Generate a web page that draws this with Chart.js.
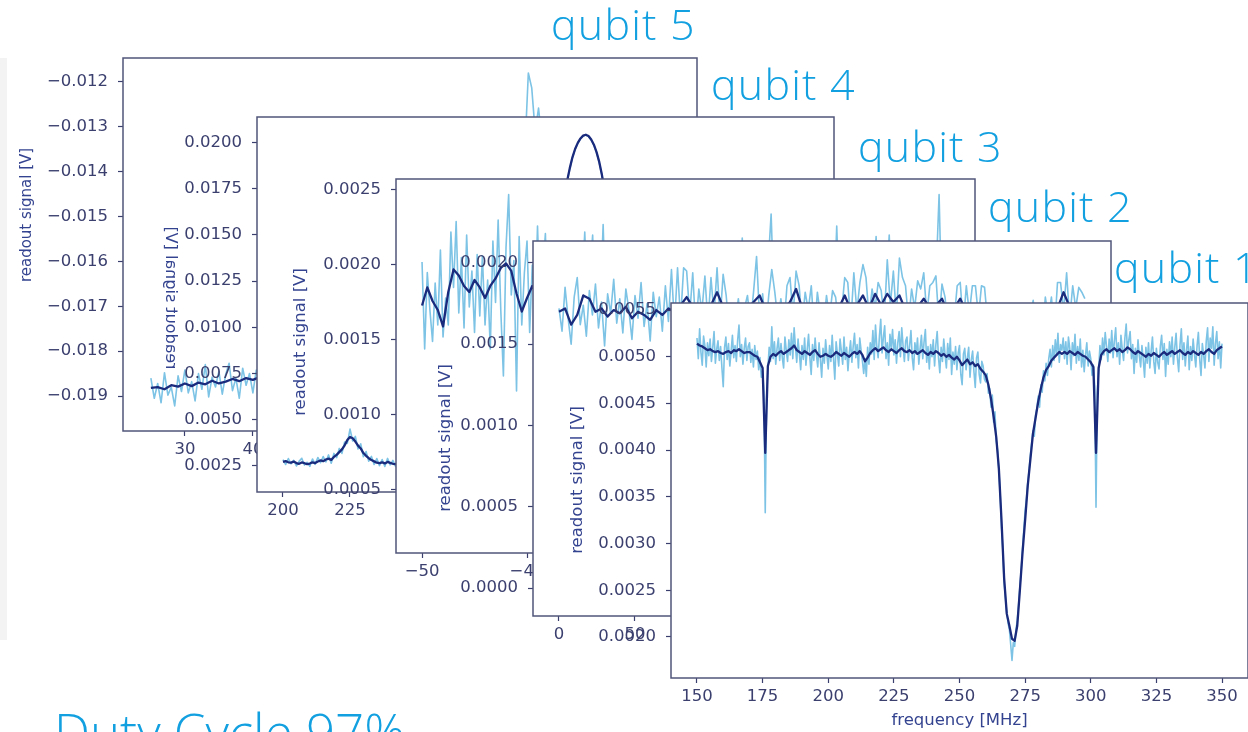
<!DOCTYPE html>
<html>
<head>
<meta charset="utf-8">
<script src="https://cdn.jsdelivr.net/npm/chart.js@4.4.1/dist/chart.umd.min.js"></script>
<style>
  html, body { margin: 0; padding: 0; background: #ffffff; }
  #stage { position: relative; width: 1248px; height: 732px; overflow: hidden; background: #ffffff; }
  #stage canvas { position: absolute; left: 0; top: 0; }
  .strip { position: absolute; left: 0; top: 58px; width: 7px; height: 582px; background: #f3f3f3; }
  #labels { position: absolute; left: 0; top: 0; }
  #labels text { font-family: "Open Sans", "Lato", sans-serif; font-weight: 300; fill: #12a0e0; }
</style>
</head>
<body>
<div id="stage">
  <div class="strip"></div>
  <canvas id="c5" width="1248" height="732"></canvas>
  <canvas id="c4" width="1248" height="732"></canvas>
  <canvas id="c3" width="1248" height="732"></canvas>
  <canvas id="c2" width="1248" height="732"></canvas>
  <canvas id="c1" width="1248" height="732"></canvas>
  <svg id="labels" width="1248" height="732" xmlns="http://www.w3.org/2000/svg">
    <text x="551" y="40" font-size="43" letter-spacing="1.2">qubit 5</text>
    <text x="711" y="100" font-size="43" letter-spacing="1.2">qubit 4</text>
    <text x="858" y="162" font-size="43" letter-spacing="1.2">qubit 3</text>
    <text x="988" y="222" font-size="43" letter-spacing="1.2">qubit 2</text>
    <text x="1114" y="283" font-size="43" letter-spacing="1.2">qubit 1</text>
    <text x="54" y="751" font-size="51">Duty Cycle 97%</text>
  </svg>
</div>
<script>
// ---------------- DATA ----------------
// qubit 1: frequency sweep 150..350 MHz
const q1RawStart = 150, q1RawStep = 0.5;
const q1Raw = [
  0.00520, 0.00498, 0.00530, 0.00505, 0.00491, 0.00522, 0.00512, 0.00489, 0.00515, 0.00501,
  0.00519, 0.00495, 0.00510, 0.00527, 0.00493, 0.00508, 0.00517, 0.00496, 0.00511, 0.00488,
  0.00468, 0.00510, 0.00521, 0.00497, 0.00514, 0.00490, 0.00506, 0.00523, 0.00499, 0.00512,
  0.00495, 0.00518, 0.00534, 0.00500, 0.00513, 0.00492, 0.00509, 0.00520, 0.00496, 0.00511,
  0.00515, 0.00494, 0.00508, 0.00489, 0.00512, 0.00497, 0.00506, 0.00486, 0.00499, 0.00478,
  0.00485, 0.00462, 0.00333, 0.00455, 0.00488, 0.00510, 0.00495, 0.00532, 0.00498, 0.00516,
  0.00492, 0.00509, 0.00520, 0.00496, 0.00514, 0.00499, 0.00488, 0.00521, 0.00507, 0.00495,
  0.00518, 0.00502, 0.00525, 0.00498, 0.00531, 0.00511, 0.00494, 0.00519, 0.00503, 0.00486,
  0.00512, 0.00497, 0.00520, 0.00491, 0.00508, 0.00524, 0.00499, 0.00481, 0.00513, 0.00496,
  0.00520, 0.00502, 0.00489, 0.00515, 0.00497, 0.00478, 0.00509, 0.00493, 0.00518, 0.00501,
  0.00487, 0.00512, 0.00495, 0.00523, 0.00498, 0.00476, 0.00516, 0.00503, 0.00490, 0.00519,
  0.00506, 0.00492, 0.00521, 0.00497, 0.00510, 0.00485, 0.00504, 0.00517, 0.00494, 0.00511,
  0.00525, 0.00499, 0.00513, 0.00488, 0.00520, 0.00507, 0.00496, 0.00482, 0.00498, 0.00479,
  0.00510, 0.00492, 0.00515, 0.00503, 0.00528, 0.00497, 0.00534, 0.00511, 0.00499, 0.00522,
  0.00540, 0.00504, 0.00521, 0.00533, 0.00498, 0.00515, 0.00491, 0.00524, 0.00510, 0.00529,
  0.00502, 0.00518, 0.00493, 0.00515, 0.00527, 0.00500, 0.00531, 0.00512, 0.00495, 0.00517,
  0.00521, 0.00496, 0.00512, 0.00528, 0.00499, 0.00486, 0.00515, 0.00503, 0.00520, 0.00492,
  0.00509, 0.00523, 0.00498, 0.00516, 0.00529, 0.00494, 0.00511, 0.00487, 0.00513, 0.00500,
  0.00518, 0.00490, 0.00513, 0.00527, 0.00499, 0.00483, 0.00510, 0.00495, 0.00519, 0.00502,
  0.00488, 0.00514, 0.00497, 0.00520, 0.00481, 0.00505, 0.00492, 0.00511, 0.00486, 0.00504,
  0.00512, 0.00481, 0.00470, 0.00503, 0.00509, 0.00486, 0.00499, 0.00510, 0.00478, 0.00497,
  0.00506, 0.00484, 0.00467, 0.00499, 0.00505, 0.00481, 0.00472, 0.00495, 0.00490, 0.00476,
  0.00473, 0.00482, 0.00461, 0.00466, 0.00446, 0.00459, 0.00430, 0.00441, 0.00410, 0.00400,
  0.00378, 0.00352, 0.00318, 0.00294, 0.00258, 0.00242, 0.00226, 0.00215, 0.00208, 0.00192,
  0.00175, 0.00194, 0.00190, 0.00207, 0.00218, 0.00234, 0.00254, 0.00271, 0.00294, 0.00315,
  0.00335, 0.00348, 0.00365, 0.00378, 0.00395, 0.00408, 0.00421, 0.00415, 0.00438, 0.00445,
  0.00458, 0.00446, 0.00470, 0.00462, 0.00485, 0.00474, 0.00493, 0.00480, 0.00498, 0.00508,
  0.00489, 0.00512, 0.00496, 0.00518, 0.00502, 0.00525, 0.00494, 0.00513, 0.00507, 0.00520,
  0.00498, 0.00516, 0.00492, 0.00521, 0.00509, 0.00486, 0.00515, 0.00501, 0.00524, 0.00493,
  0.00511, 0.00496, 0.00519, 0.00489, 0.00507, 0.00484, 0.00502, 0.00515, 0.00490, 0.00506,
  0.00498, 0.00480, 0.00491, 0.00468, 0.00339, 0.00462, 0.00486, 0.00512, 0.00497, 0.00520,
  0.00502, 0.00526, 0.00511, 0.00495, 0.00519, 0.00504, 0.00528, 0.00499, 0.00517, 0.00531,
  0.00500, 0.00515, 0.00492, 0.00523, 0.00508, 0.00496, 0.00520, 0.00535, 0.00504, 0.00518,
  0.00527, 0.00498, 0.00513, 0.00482, 0.00509, 0.00494, 0.00518, 0.00501, 0.00489, 0.00512,
  0.00497, 0.00478, 0.00510, 0.00493, 0.00515, 0.00488, 0.00506, 0.00521, 0.00495, 0.00482,
  0.00509, 0.00494, 0.00487, 0.00511, 0.00523, 0.00497, 0.00514, 0.00479, 0.00508, 0.00492,
  0.00516, 0.00500, 0.00521, 0.00492, 0.00510, 0.00525, 0.00499, 0.00484, 0.00513, 0.00530,
  0.00497, 0.00515, 0.00490, 0.00508, 0.00522, 0.00486, 0.00511, 0.00496, 0.00519, 0.00503,
  0.00489, 0.00512, 0.00526, 0.00497, 0.00480, 0.00514, 0.00502, 0.00488, 0.00517, 0.00531,
  0.00495, 0.00520, 0.00509, 0.00532, 0.00491, 0.00514, 0.00527, 0.00498, 0.00516, 0.00488,
  0.00514
];
const q1SmoothStart = 150, q1SmoothStep = 1;
const q1Smooth = [
  0.00514, 0.00512, 0.00511, 0.00509, 0.00507, 0.00508, 0.00506, 0.00505, 0.00506, 0.00504,
  0.00503, 0.00505, 0.00506, 0.00504, 0.00507, 0.00506, 0.00508, 0.00506, 0.00504, 0.00505,
  0.00505, 0.00503, 0.00501, 0.00500, 0.00494, 0.00488, 0.00397, 0.00490, 0.00500, 0.00503,
  0.00501, 0.00504, 0.00506, 0.00503, 0.00505, 0.00507, 0.00509, 0.00512, 0.00507, 0.00505,
  0.00503, 0.00506, 0.00504, 0.00502, 0.00505, 0.00507, 0.00503, 0.00500, 0.00501, 0.00503,
  0.00501, 0.00500, 0.00502, 0.00505, 0.00503, 0.00501, 0.00504, 0.00502, 0.00500, 0.00503,
  0.00505, 0.00503, 0.00506, 0.00502, 0.00495, 0.00499, 0.00504, 0.00507, 0.00509, 0.00506,
  0.00508, 0.00510, 0.00507, 0.00505, 0.00508, 0.00506, 0.00504, 0.00507, 0.00509, 0.00506,
  0.00505, 0.00507, 0.00504, 0.00506, 0.00503, 0.00505, 0.00507, 0.00504, 0.00502, 0.00505,
  0.00503, 0.00506, 0.00504, 0.00501, 0.00503, 0.00500, 0.00502, 0.00499, 0.00497, 0.00500,
  0.00496, 0.00491, 0.00494, 0.00497, 0.00492, 0.00494, 0.00490, 0.00492, 0.00487, 0.00484,
  0.00480, 0.00470, 0.00455, 0.00436, 0.00414, 0.00380, 0.00325, 0.00263, 0.00225, 0.00212,
  0.00198, 0.00196, 0.00212, 0.00250, 0.00290, 0.00325, 0.00362, 0.00390, 0.00418, 0.00435,
  0.00452, 0.00466, 0.00478, 0.00486, 0.00490, 0.00496, 0.00499, 0.00502, 0.00505, 0.00503,
  0.00505, 0.00503, 0.00506, 0.00504, 0.00502, 0.00505, 0.00503, 0.00501, 0.00500, 0.00497,
  0.00494, 0.00489, 0.00397, 0.00488, 0.00502, 0.00506, 0.00508, 0.00505, 0.00507, 0.00509,
  0.00506, 0.00508, 0.00505, 0.00507, 0.00510, 0.00508, 0.00505, 0.00503, 0.00506, 0.00504,
  0.00502, 0.00500, 0.00503, 0.00501, 0.00504, 0.00502, 0.00500, 0.00503, 0.00505, 0.00502,
  0.00504, 0.00506, 0.00503, 0.00505, 0.00507, 0.00504, 0.00502, 0.00505, 0.00503, 0.00506,
  0.00504, 0.00502, 0.00505, 0.00503, 0.00506, 0.00508, 0.00505, 0.00503, 0.00507, 0.00509,
  0.00511
];

// qubit 2: sweep 0..346 MHz
const q2RawStart = 0, q2RawStep = 2;
const q2Raw = [
  0.00172, 0.00158, 0.00185, 0.00166, 0.00150, 0.00179, 0.00191, 0.00162, 0.00174, 0.00155,
  0.00183, 0.00168, 0.00187, 0.00160, 0.00176, 0.00149, 0.00181, 0.00169, 0.00190, 0.00163,
  0.00178, 0.00157, 0.00184, 0.00171, 0.00153, 0.00180, 0.00166, 0.00188, 0.00161, 0.00175,
  0.00152, 0.00182, 0.00167, 0.00179, 0.00158, 0.00186, 0.00164, 0.00196, 0.00162, 0.00197,
  0.00165, 0.00197, 0.00195, 0.00168, 0.00194, 0.00159, 0.00184, 0.00170, 0.00192, 0.00163,
  0.00191, 0.00168, 0.00197, 0.00165, 0.00193, 0.00180, 0.00158, 0.00170, 0.00162, 0.00178,
  0.00160, 0.00172, 0.00180, 0.00163, 0.00182, 0.00204, 0.00166, 0.00181, 0.00158, 0.00180,
  0.00196, 0.00182, 0.00165, 0.00178, 0.00160, 0.00186, 0.00191, 0.00167, 0.00195, 0.00186,
  0.00163, 0.00182, 0.00171, 0.00186, 0.00157, 0.00182, 0.00168, 0.00161, 0.00180, 0.00166,
  0.00183, 0.00179, 0.00162, 0.00170, 0.00191, 0.00188, 0.00163, 0.00194, 0.00170, 0.00188,
  0.00199, 0.00191, 0.00166, 0.00184, 0.00172, 0.00188, 0.00183, 0.00165, 0.00202, 0.00174,
  0.00195, 0.00167, 0.00203, 0.00191, 0.00186, 0.00164, 0.00184, 0.00172, 0.00189, 0.00184,
  0.00194, 0.00168, 0.00186, 0.00188, 0.00192, 0.00163, 0.00187, 0.00179, 0.00160, 0.00171,
  0.00165, 0.00186, 0.00188, 0.00162, 0.00186, 0.00169, 0.00186, 0.00186, 0.00167, 0.00186,
  0.00185, 0.00164, 0.00171, 0.00158, 0.00168, 0.00155, 0.00172, 0.00160, 0.00166, 0.00173,
  0.00154, 0.00169, 0.00162, 0.00172, 0.00157, 0.00168, 0.00177, 0.00160, 0.00171, 0.00156,
  0.00179, 0.00166, 0.00179, 0.00158, 0.00188, 0.00188, 0.00170, 0.00194, 0.00165, 0.00186,
  0.00172, 0.00185, 0.00182, 0.00178
];
const q2SmoothStart = 0, q2SmoothStep = 4;
const q2Smooth = [
  0.00170, 0.00172, 0.00162, 0.00168, 0.00180, 0.00178, 0.00170, 0.00172, 0.00167, 0.00171,
  0.00169, 0.00173, 0.00166, 0.00170, 0.00168, 0.00165, 0.00171, 0.00168, 0.00172, 0.00170,
  0.00174, 0.00179, 0.00173, 0.00170, 0.00172, 0.00174, 0.00182, 0.00173, 0.00168, 0.00170,
  0.00167, 0.00172, 0.00176, 0.00180, 0.00171, 0.00173, 0.00169, 0.00172, 0.00176, 0.00184,
  0.00172, 0.00170, 0.00168, 0.00171, 0.00169, 0.00173, 0.00172, 0.00180, 0.00171, 0.00174,
  0.00180, 0.00172, 0.00181, 0.00174, 0.00181, 0.00176, 0.00180, 0.00171, 0.00170, 0.00173,
  0.00178, 0.00172, 0.00174, 0.00178, 0.00169, 0.00172, 0.00178, 0.00170, 0.00173, 0.00170,
  0.00172, 0.00166, 0.00168, 0.00165, 0.00167, 0.00164, 0.00166, 0.00163, 0.00167, 0.00165,
  0.00169, 0.00170, 0.00172, 0.00182, 0.00173, 0.00171, 0.00170
];

// qubit 3: sweep -50..0 MHz
const q3RawStart = -50, q3RawStep = 0.25;
const q3Raw = [
  0.00202, 0.00144, 0.00195, 0.00170, 0.00149, 0.00188, 0.00160, 0.00210, 0.00152, 0.00178,
  0.00160, 0.00222, 0.00185, 0.00229, 0.00168, 0.00205, 0.00158, 0.00220, 0.00172, 0.00196,
  0.00155, 0.00207, 0.00166, 0.00206, 0.00160, 0.00190, 0.00144, 0.00216, 0.00175, 0.00230,
  0.00170, 0.00126, 0.00212, 0.00247, 0.00180, 0.00203, 0.00116, 0.00219, 0.00160, 0.00195,
  0.00216, 0.00155, 0.00200, 0.00168,
  0.00226, 0.00170, 0.00195, 0.00221, 0.00160, 0.00188, 0.00205, 0.00172, 0.00193, 0.00158,
  0.00184, 0.00201, 0.00167, 0.00190, 0.00176, 0.00208, 0.00163, 0.00186, 0.00222, 0.00171,
  0.00194, 0.00220, 0.00165, 0.00189, 0.00178, 0.00227, 0.00169, 0.00192, 0.00156, 0.00183,
  0.00204, 0.00166, 0.00190, 0.00175, 0.00199, 0.00161, 0.00187, 0.00172, 0.00196, 0.00157,
  0.00181, 0.00206, 0.00169, 0.00191, 0.00164, 0.00185, 0.00160, 0.00197, 0.00174, 0.00189,
  0.00203, 0.00168, 0.00185, 0.00159, 0.00192, 0.00176, 0.00209, 0.00170, 0.00187, 0.00155,
  0.00182, 0.00198, 0.00165, 0.00190, 0.00173, 0.00157, 0.00186, 0.00201, 0.00168, 0.00193,
  0.00179, 0.00207, 0.00162, 0.00188, 0.00174, 0.00196, 0.00210, 0.00171, 0.00218, 0.00177,
  0.00160, 0.00189, 0.00172, 0.00199, 0.00184, 0.00163, 0.00192, 0.00178, 0.00204, 0.00234,
  0.00181, 0.00197, 0.00166, 0.00190, 0.00173, 0.00158, 0.00187, 0.00203, 0.00169, 0.00182,
  0.00161, 0.00190, 0.00176, 0.00200, 0.00185, 0.00164, 0.00191, 0.00172, 0.00195, 0.00180,
  0.00206, 0.00167, 0.00189, 0.00175, 0.00226, 0.00170, 0.00193, 0.00158, 0.00184, 0.00169,
  0.00196, 0.00178, 0.00203, 0.00165, 0.00188, 0.00174, 0.00199, 0.00160, 0.00185, 0.00219,
  0.00171, 0.00194, 0.00167, 0.00189, 0.00220, 0.00176, 0.00198, 0.00162, 0.00183, 0.00170,
  0.00201, 0.00179, 0.00192, 0.00158, 0.00186, 0.00171, 0.00197, 0.00182, 0.00207, 0.00168,
  0.00190, 0.00176, 0.00200, 0.00247, 0.00173, 0.00188, 0.00179
];
const q3SmoothStart = -50, q3SmoothStep = 0.5;
const q3Smooth = [
  0.00173, 0.00185, 0.00176, 0.00170, 0.00159, 0.00182, 0.00197, 0.00193, 0.00186, 0.00182,
  0.00190, 0.00185, 0.00178, 0.00186, 0.00191, 0.00198, 0.00201, 0.00196, 0.00181, 0.00169,
  0.00178, 0.00186, 0.00180, 0.00183, 0.00177, 0.00181, 0.00185, 0.00179, 0.00176, 0.00182,
  0.00187, 0.00183, 0.00178, 0.00181, 0.00186, 0.00180, 0.00175, 0.00179, 0.00183, 0.00178,
  0.00181, 0.00176, 0.00180, 0.00184, 0.00179, 0.00175, 0.00178, 0.00182, 0.00177, 0.00180,
  0.00184, 0.00179, 0.00176, 0.00181, 0.00178, 0.00174, 0.00179, 0.00183, 0.00178, 0.00181,
  0.00185, 0.00180, 0.00176, 0.00179, 0.00183, 0.00178, 0.00182, 0.00186, 0.00180, 0.00177,
  0.00181, 0.00178, 0.00174, 0.00179, 0.00183, 0.00177, 0.00180, 0.00184, 0.00179, 0.00183,
  0.00178, 0.00175, 0.00180, 0.00184, 0.00178, 0.00181, 0.00177, 0.00182, 0.00179, 0.00183,
  0.00178, 0.00174, 0.00179, 0.00182, 0.00177, 0.00180, 0.00184, 0.00179, 0.00182, 0.00178,
  0.00181
];

// qubit 4: sweep 200..396 MHz
const q4RawStart = 200, q4RawStep = 1;
const q4Raw = [
  0.00285, 0.00258, 0.00290, 0.00262, 0.00281, 0.00250, 0.00275, 0.00292, 0.00255, 0.00270,
  0.00248, 0.00288, 0.00259, 0.00296, 0.00268, 0.00301, 0.00272, 0.00310, 0.00265, 0.00318,
  0.00295, 0.00345, 0.00318, 0.00380, 0.00372, 0.00450, 0.00385, 0.00410, 0.00342, 0.00370,
  0.00300, 0.00328, 0.00276, 0.00302, 0.00258, 0.00290, 0.00252, 0.00285, 0.00247, 0.00291,
  0.00256, 0.00280, 0.00248, 0.00282, 0.00259, 0.00288, 0.00253, 0.00285, 0.00262, 0.00290,
  0.00255, 0.00286, 0.00260, 0.00293, 0.00257, 0.00289, 0.00263, 0.00295, 0.00258, 0.00287,
  0.00262, 0.00291, 0.00266, 0.00297, 0.00260, 0.00294, 0.00265, 0.00302, 0.00270, 0.00298,
  0.00272, 0.00305, 0.00278, 0.00310, 0.00283, 0.00318, 0.00290, 0.00322, 0.00300, 0.00335,
  0.00318, 0.00352, 0.00335, 0.00372, 0.00360, 0.00398, 0.00390, 0.00448, 0.00455, 0.00510,
  0.00520, 0.00590, 0.00605, 0.00695, 0.00730, 0.00830, 0.00890, 0.01005, 0.01080, 0.01195,
  0.01260, 0.01370, 0.01430, 0.01530, 0.01610, 0.01705, 0.01788, 0.01858, 0.01918, 0.01963,
  0.01996, 0.02020, 0.02035, 0.02040, 0.02033, 0.02014, 0.01986, 0.01946, 0.01893, 0.01823,
  0.01745, 0.01630, 0.01535, 0.01390, 0.01280, 0.01130, 0.01025, 0.00890, 0.00805, 0.00695,
  0.00635, 0.00548, 0.00510, 0.00445, 0.00430, 0.00380, 0.00385, 0.00340, 0.00352, 0.00318,
  0.00335, 0.00295, 0.00318, 0.00285, 0.00310, 0.00276, 0.00302, 0.00270, 0.00298, 0.00266,
  0.00295, 0.00262, 0.00290, 0.00258, 0.00286, 0.00253, 0.00292, 0.00260, 0.00284, 0.00256,
  0.00289, 0.00250, 0.00282, 0.00294, 0.00259, 0.00287, 0.00255, 0.00291, 0.00262, 0.00280,
  0.00252, 0.00288, 0.00265, 0.00293, 0.00257, 0.00284, 0.00249, 0.00290, 0.00261, 0.00283,
  0.00254, 0.00286, 0.00263, 0.00295, 0.00258, 0.00281, 0.00251, 0.00289, 0.00264, 0.00292,
  0.00256, 0.00287, 0.00260, 0.00283, 0.00253, 0.00290, 0.00262
];
const q4SmoothStart = 200, q4SmoothStep = 1;
const q4Smooth = [
  0.00272, 0.00276, 0.00270, 0.00268, 0.00274, 0.00266, 0.00262, 0.00269, 0.00265, 0.00260,
  0.00263, 0.00270, 0.00266, 0.00274, 0.00280, 0.00276, 0.00285, 0.00290, 0.00283, 0.00299,
  0.00310, 0.00325, 0.00340, 0.00362, 0.00390, 0.00407, 0.00400, 0.00382, 0.00360, 0.00345,
  0.00320, 0.00305, 0.00292, 0.00282, 0.00275, 0.00268, 0.00266, 0.00270, 0.00264, 0.00272,
  0.00267, 0.00262, 0.00260, 0.00264, 0.00270, 0.00267, 0.00273, 0.00269, 0.00265, 0.00271,
  0.00268, 0.00274, 0.00270, 0.00266, 0.00272, 0.00269, 0.00275, 0.00271, 0.00268, 0.00273,
  0.00270, 0.00276, 0.00272, 0.00269, 0.00275, 0.00278, 0.00274, 0.00280, 0.00277, 0.00283,
  0.00280, 0.00286, 0.00284, 0.00290, 0.00288, 0.00295, 0.00299, 0.00305, 0.00310, 0.00318,
  0.00325, 0.00336, 0.00346, 0.00360, 0.00375, 0.00392, 0.00412, 0.00436, 0.00462, 0.00494,
  0.00530, 0.00572, 0.00620, 0.00676, 0.00740, 0.00815, 0.00900, 0.00990, 0.01085, 0.01180,
  0.01270, 0.01355, 0.01440, 0.01520, 0.01620, 0.01710, 0.01790, 0.01860, 0.01920, 0.01965,
  0.01998, 0.02022, 0.02037, 0.02042, 0.02035, 0.02016, 0.01988, 0.01948, 0.01895, 0.01825,
  0.01740, 0.01640, 0.01525, 0.01400, 0.01270, 0.01140, 0.01015, 0.00900, 0.00795, 0.00705,
  0.00625, 0.00558, 0.00502, 0.00458, 0.00422, 0.00394, 0.00372, 0.00354, 0.00340, 0.00329,
  0.00320, 0.00312, 0.00306, 0.00300, 0.00296, 0.00292, 0.00288, 0.00285, 0.00282, 0.00284,
  0.00279, 0.00276, 0.00272, 0.00278, 0.00274, 0.00270, 0.00275, 0.00271, 0.00268, 0.00273,
  0.00270, 0.00266, 0.00271, 0.00275, 0.00272, 0.00268, 0.00274, 0.00270, 0.00267, 0.00272,
  0.00269, 0.00274, 0.00271, 0.00267, 0.00273, 0.00270, 0.00266, 0.00271, 0.00275, 0.00270,
  0.00268, 0.00273, 0.00269, 0.00265, 0.00270, 0.00274, 0.00271, 0.00267, 0.00272, 0.00268,
  0.00273, 0.00270, 0.00266, 0.00271, 0.00268, 0.00272, 0.00269
];

// qubit 5: sweep 25..101.5 MHz
const q5RawStart = 25, q5RawStep = 0.5;
const q5Raw = [
  -0.01860, -0.01905, -0.01872, -0.01915, -0.01848, -0.01898, -0.01880, -0.01922, -0.01855, -0.01890,
  -0.01842, -0.01893, -0.01868, -0.01911, -0.01850, -0.01885, -0.01830, -0.01902, -0.01858, -0.01880,
  -0.01845, -0.01896, -0.01852, -0.01827, -0.01888, -0.01860, -0.01905, -0.01838, -0.01876, -0.01850,
  -0.01893, -0.01842, -0.01871, -0.01826, -0.01880, -0.01847, -0.01889, -0.01835, -0.01872, -0.01843,
  -0.01880, -0.01832, -0.01868, -0.01845, -0.01876, -0.01829, -0.01865, -0.01838, -0.01872, -0.01827,
  -0.01862, -0.01835, -0.01870, -0.01824, -0.01858, -0.01832, -0.01866, -0.01821, -0.01855, -0.01830,
  -0.01862, -0.01818, -0.01853, -0.01827, -0.01859, -0.01815, -0.01850, -0.01824, -0.01856, -0.01812,
  -0.01848, -0.01820, -0.01855, -0.01810, -0.01846, -0.01818, -0.01851, -0.01808, -0.01843, -0.01815,
  -0.01840, -0.01805, -0.01830, -0.01798, -0.01815, -0.01785, -0.01790, -0.01760, -0.01770, -0.01738,
  -0.01755, -0.01722, -0.01720, -0.01690, -0.01680, -0.01650, -0.01640, -0.01605, -0.01598, -0.01560,
  -0.01545, -0.01520, -0.01490, -0.01470, -0.01430, -0.01415, -0.01380, -0.01372, -0.01340, -0.01395,
  -0.01350, -0.01180, -0.01213, -0.01310, -0.01258, -0.01332, -0.01300, -0.01355, -0.01385, -0.01415,
  -0.01432, -0.01470, -0.01500, -0.01528, -0.01560, -0.01590, -0.01612, -0.01640, -0.01655, -0.01682,
  -0.01690, -0.01722, -0.01728, -0.01755, -0.01750, -0.01778, -0.01770, -0.01795, -0.01785, -0.01812,
  -0.01795, -0.01830, -0.01800, -0.01838, -0.01805, -0.01842, -0.01808, -0.01845, -0.01810, -0.01848,
  -0.01812, -0.01850, -0.01818, -0.01845
];
const q5SmoothStart = 25, q5SmoothStep = 1;
const q5Smooth = [
  -0.01882, -0.01880, -0.01885, -0.01876, -0.01879, -0.01872, -0.01878, -0.01870, -0.01874, -0.01866,
  -0.01872, -0.01868, -0.01862, -0.01867, -0.01860, -0.01864, -0.01858, -0.01862, -0.01856, -0.01860,
  -0.01855, -0.01858, -0.01852, -0.01856, -0.01850, -0.01853, -0.01848, -0.01851, -0.01846, -0.01849,
  -0.01844, -0.01847, -0.01842, -0.01845, -0.01840, -0.01843, -0.01838, -0.01841, -0.01836, -0.01838,
  -0.01832, -0.01826, -0.01818, -0.01805, -0.01788, -0.01765, -0.01735, -0.01700, -0.01660, -0.01615,
  -0.01565, -0.01510, -0.01455, -0.01400, -0.01355, -0.01325, -0.01312, -0.01318, -0.01345, -0.01390,
  -0.01445, -0.01505, -0.01565, -0.01620, -0.01668, -0.01708, -0.01740, -0.01765, -0.01784, -0.01798,
  -0.01808, -0.01815, -0.01820, -0.01824, -0.01826, -0.01829, -0.01830
];

const yLabelText = 'readout signal [V]';
const xLabelText = 'frequency [MHz]';

// ---------------- STYLE ----------------
const LIGHT = '#7cc3e5';
const DARK = '#1a2a7c';
const TICK_COLOR = '#3a3f6e';
const SPINE = '#51567a';
const YLAB_COLOR = '#34438f';
const FONT = 'DejaVu Sans';

function sweep(start, step, values) {
  return values.map((v, i) => ({ x: start + i * step, y: v }));
}
function fmt(v, d) {
  if (Math.abs(v) < 1e-12) v = 0;
  return v.toFixed(d).replace('-', '\u2212');
}

const deco = {
  id: 'deco',
  beforeDraw(chart) {
    const { ctx, chartArea: a } = chart;
    ctx.save();
    ctx.fillStyle = '#ffffff';
    ctx.fillRect(a.left, a.top, a.right - a.left, a.bottom - a.top);
    ctx.restore();
  },
  afterDraw(chart, args, o) {
    const { ctx, chartArea: a } = chart;
    ctx.save();
    ctx.strokeStyle = SPINE;
    ctx.lineWidth = 1.5;
    ctx.strokeRect(a.left, a.top, a.right - a.left, a.bottom - a.top);
    ctx.restore();
    if (o && o.ylabel) {
      const yl = o.ylabel;
      ctx.save();
      ctx.translate(yl.x, yl.y);
      if (yl.mirror) ctx.scale(-1, 1);
      ctx.rotate(-Math.PI / 2);
      ctx.font = yl.size + 'px "' + FONT + '"';
      ctx.fillStyle = YLAB_COLOR;
      ctx.textAlign = 'center';
      ctx.textBaseline = 'middle';
      ctx.fillText(yl.text, 0, 0);
      ctx.restore();
    }
  }
};

function makePanel(id, p) {
  const [L, T, R, B] = p.box;
  const xScale = {
    type: 'linear', position: 'bottom', min: p.xmin, max: p.xmax,
    afterFit: s => { s.height = 732 - B; },
    grid: { display: true, drawOnChartArea: false, drawTicks: true, tickLength: 5, tickColor: TICK_COLOR, tickWidth: 1.2 },
    border: { display: false },
    ticks: { stepSize: p.xstep, includeBounds: false, autoSkip: false, maxRotation: 0, minRotation: 0,
             padding: 4, color: TICK_COLOR, font: { family: FONT, size: 16.5 }, callback: v => fmt(v, 0) },
    title: p.xtitle ? { display: true, text: p.xtitle, color: YLAB_COLOR, font: { family: FONT, size: 16.5 }, padding: { top: 0, bottom: 1 } } : { display: false }
  };
  const yScale = {
    type: 'linear', position: 'left', min: p.ymin, max: p.ymax,
    afterFit: s => { s.width = L; },
    grid: { display: true, drawOnChartArea: false, drawTicks: true, tickLength: 5, tickColor: TICK_COLOR, tickWidth: 1.2 },
    border: { display: false },
    ticks: { stepSize: p.ystep, includeBounds: false, autoSkip: false, padding: 10,
             color: TICK_COLOR, font: { family: FONT, size: 16.5 }, callback: v => fmt(v, p.ydec) }
  };
  return new Chart(document.getElementById(id), {
    type: 'line',
    data: {
      datasets: [
        // smoothed trace: order 0 -> drawn on top
        { data: sweep(p.smStart, p.smStep, p.smooth), borderColor: DARK, borderWidth: 2.3, pointRadius: 0,
          borderJoinStyle: 'round', tension: 0, fill: false, order: 0 },
        // raw trace underneath
        { data: sweep(p.rawStart, p.rawStep, p.raw), borderColor: LIGHT, borderWidth: 1.6, pointRadius: 0,
          borderJoinStyle: 'round', tension: 0, fill: false, order: 1 }
      ]
    },
    options: {
      responsive: false, animation: false, events: [], parsing: false, normalized: true,
      layout: { padding: { left: 0, top: T, right: 1248 - R, bottom: 0 } },
      plugins: { legend: { display: false }, tooltip: { enabled: false }, deco: { ylabel: p.ylabel } },
      scales: { x: xScale, y: yScale }
    },
    plugins: [deco]
  });
}

makePanel('c5', {
  box: [123, 58, 697, 431], xmin: 20.9, xmax: 105.3, xstep: 10,
  ymin: -0.01978, ymax: -0.011465, ystep: 0.001, ydec: 3,
  rawStart: q5RawStart, rawStep: q5RawStep, raw: q5Raw,
  smStart: q5SmoothStart, smStep: q5SmoothStep, smooth: q5Smooth,
  ylabel: { text: yLabelText, x: 27, y: 215, size: 15 }
});
makePanel('c4', {
  box: [257, 117, 834, 492], xmin: 190.3, xmax: 405.6, xstep: 25,
  ymin: 0.001093, ymax: 0.02138, ystep: 0.0025, ydec: 4,
  rawStart: q4RawStart, rawStep: q4RawStep, raw: q4Raw,
  smStart: q4SmoothStart, smStep: q4SmoothStep, smooth: q4Smooth,
  ylabel: { text: yLabelText, x: 170, y: 298, size: 16, mirror: true }
});
makePanel('c3', {
  box: [396, 179, 975, 553], xmin: -52.48, xmax: 2.67, xstep: 10,
  ymin: 0.00008, ymax: 0.002573, ystep: 0.0005, ydec: 4,
  rawStart: q3RawStart, rawStep: q3RawStep, raw: q3Raw,
  smStart: q3SmoothStart, smStep: q3SmoothStep, smooth: q3Smooth,
  ylabel: { text: yLabelText, x: 301, y: 342, size: 16.5 }
});
makePanel('c2', {
  box: [533, 241, 1111, 616], xmin: -17.1, xmax: 363.2, xstep: 50,
  ymin: -0.000172, ymax: 0.002135, ystep: 0.0005, ydec: 4,
  rawStart: q2RawStart, rawStep: q2RawStep, raw: q2Raw,
  smStart: q2SmoothStart, smStep: q2SmoothStep, smooth: q2Smooth,
  ylabel: { text: yLabelText, x: 446, y: 438, size: 16.5 }
});
makePanel('c1', {
  box: [671, 303, 1248, 678], xmin: 140.1, xmax: 359.9, xstep: 25,
  ymin: 0.001561, ymax: 0.005575, ystep: 0.0005, ydec: 4,
  rawStart: q1RawStart, rawStep: q1RawStep, raw: q1Raw,
  smStart: q1SmoothStart, smStep: q1SmoothStep, smooth: q1Smooth,
  ylabel: { text: yLabelText, x: 578, y: 480, size: 16.5 },
  xtitle: xLabelText
});
</script>
</body>
</html>
